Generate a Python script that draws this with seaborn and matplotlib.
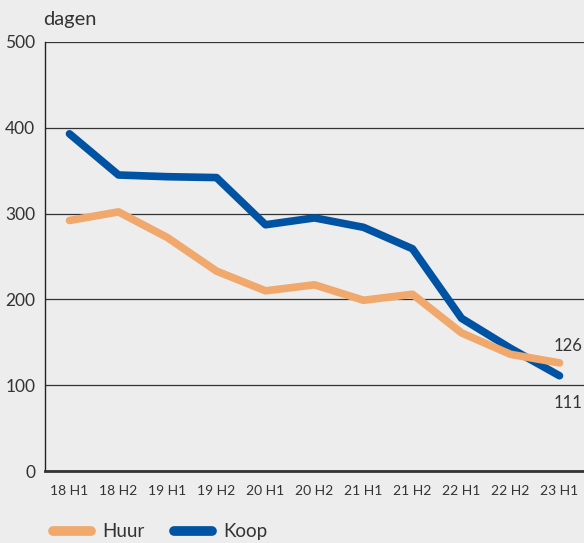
import pandas as pd
import seaborn as sns
import matplotlib.pyplot as plt
from matplotlib.ticker import FixedLocator

periods = ["18 H1", "18 H2", "19 H1", "19 H2", "20 H1", "20 H2",
           "21 H1", "21 H2", "22 H1", "22 H2", "23 H1"]
huur = [292, 302, 272, 233, 210, 217, 199, 206, 161, 136, 126]
koop = [393, 345, 343, 342, 287, 295, 284, 259, 178, 143, 111]

df = pd.DataFrame({
    "periode": periods * 2,
    "dagen": huur + koop,
    "type": ["Huur"] * len(periods) + ["Koop"] * len(periods),
})

bg = "#ededed"
sns.set_theme(style="white", rc={"axes.facecolor": bg, "figure.facecolor": bg})
plt.rcParams["font.family"] = ["Lato", "DejaVu Sans"]

fig = plt.figure(figsize=(5.84, 5.43), dpi=100)
ax = fig.add_axes([45 / 584, 72 / 543, 1 - 45 / 584, (471 - 42) / 543])

sns.lineplot(
    data=df, x="periode", y="dagen", hue="type",
    hue_order=["Huur", "Koop"],
    palette={"Huur": "#f0a86c", "Koop": "#0052a3"},
    linewidth=5.5, ax=ax, sort=False,
)
for line in ax.lines:
    line.set_solid_capstyle("round")
    line.set_solid_joinstyle("round")
ax.lines[0].set_zorder(4)
ax.lines[1].set_zorder(3)

ax.set_xlim(-0.5, 10.5)
ax.set_ylim(0, 500)
ax.set_yticks([0, 100, 200, 300, 400, 500])
ax.yaxis.grid(True, color="#333333", linewidth=0.9)
ax.set_axisbelow(True)
ax.tick_params(axis="y", length=0, labelsize=12.5, colors="#333333", pad=7)
ax.tick_params(axis="x", which="major", length=0, labelsize=10, colors="#333333", pad=10)
ax.xaxis.set_minor_locator(FixedLocator([i + 0.5 for i in range(10)]))
ax.tick_params(axis="x", which="minor", direction="in", length=11, width=1.2, color="#222222")

for s in ["top", "right"]:
    ax.spines[s].set_visible(False)
ax.spines["left"].set_color("#222222")
ax.spines["left"].set_linewidth(1.0)
ax.spines["bottom"].set_color("#333333")
ax.spines["bottom"].set_linewidth(2.0)

ax.set_xlabel("")
ax.set_ylabel("")
ax.text(-0.004, 1.032, "dagen", transform=ax.transAxes, fontsize=14.5,
        color="#333333", ha="left", va="bottom")
ax.text(10.46, huur[-1] + 10, str(huur[-1]), fontsize=12, color="#333333",
        ha="right", va="bottom")
ax.text(10.46, koop[-1] - 22, str(koop[-1]), fontsize=12, color="#333333",
        ha="right", va="top")

handles, labels = ax.get_legend_handles_labels()
ax.legend_.remove()
for h in handles:
    h.set_linewidth(7)
    h.set_solid_capstyle("round")
fig.legend(handles, labels, loc="lower left", bbox_to_anchor=(0.062, -0.026),
           ncol=2, frameon=False, fontsize=13.5, handlelength=2.0,
           columnspacing=1.6, handletextpad=0.6, labelcolor="#333333")

plt.savefig("out.png", dpi=100, facecolor=bg)
